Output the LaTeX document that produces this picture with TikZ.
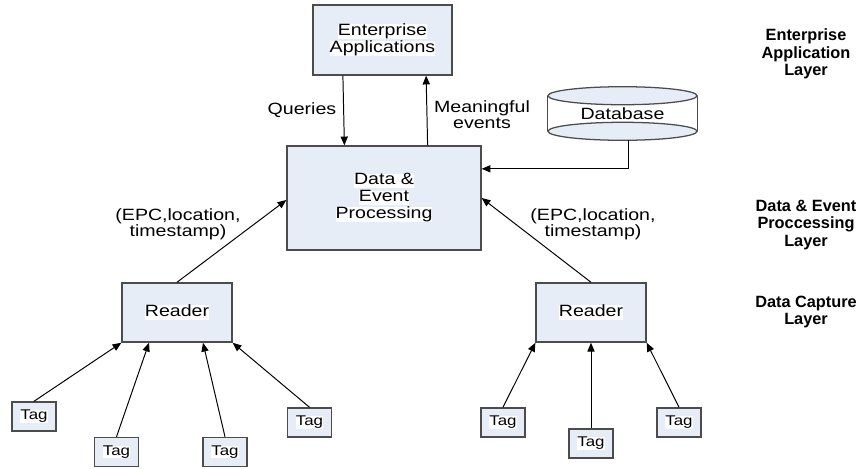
\documentclass[tikz,border=0pt]{standalone}
\usepackage{fontspec}
\setmainfont{Liberation Sans}
\newfontfamily\widefont{Liberation Sans}[FakeStretch=1.2]
\usetikzlibrary{arrows.meta}
\definecolor{boxblue}{RGB}{230,237,247}
% white strip behind the words in a box
\newcommand{\hl}[1]{{\setlength{\fboxsep}{0pt}\colorbox{white}{\vphantom{Ag}#1}}}
\tikzset{
    box/.style={draw=black!70, line width=0.9pt, fill=boxblue, align=center, inner sep=0pt,
      font=\widefont\fontsize{11.6}{12.1}\selectfont},
    tagbox/.style={box, minimum width=1.1cm, minimum height=0.73cm,
      font=\widefont\fontsize{10}{12}\selectfont},
    lbl/.style={align=center, inner sep=0pt, font=\widefont\fontsize{11.6}{11.4}\selectfont},
    layer/.style={align=center, inner sep=0pt, font=\bfseries\fontsize{11.6}{12.4}\selectfont},
    link/.style={-{Triangle[length=2.2mm, width=1.8mm]}, line width=0.7pt},
}

\begin{document}
\begin{tikzpicture}[x=0.025cm, y=-0.025cm]
    \useasboundingbox (0,0) rectangle (859,468);

    \node[box, minimum width=3.48cm, minimum height=1.75cm] (ea) at (382.5,40) {\hl{Enterprise}\\\hl{Applications}};
    \node[box, minimum width=4.85cm, minimum height=2.6cm] (dep) at (384,198) {\hl{Data \&}\\\hl{Event}\\\hl{Processing}};
    \node[lbl, minimum width=3.725cm, minimum height=1.325cm] (db) at (622.5,113.5) {Database};

    % database drum
    \draw[draw=black!70, line width=0.9pt, fill=boxblue] ([yshift=0.225cm]db.south) ellipse [x radius=1.8625cm, y radius=0.225cm];
    \draw[draw=black!70, line width=0.9pt] ([yshift=-0.225cm]db.north west) -- ([yshift=0.225cm]db.south west)
      ([yshift=-0.225cm]db.north east) -- ([yshift=0.225cm]db.south east);
    \draw[draw=black!70, line width=0.9pt, fill=boxblue] ([yshift=-0.225cm]db.north) ellipse [x radius=1.8625cm, y radius=0.225cm];

    \node[box, minimum width=2.75cm, minimum height=1.48cm] (rd1) at (177,312.5) {\hl{Reader}};
    \node[box, minimum width=2.75cm, minimum height=1.48cm] (rd2) at (591,312.5) {\hl{Reader}};

    \node[tagbox] (t1) at (34,416.5) {\hl{Tag}};
    \node[tagbox] (t2) at (116.5,452) {\hl{Tag}};
    \node[tagbox] (t3) at (225,452) {\hl{Tag}};
    \node[tagbox] (t4) at (309.5,422.5) {\hl{Tag}};
    \node[tagbox] (t5) at (503,422.5) {\hl{Tag}};
    \node[tagbox] (t6) at (591,443.5) {\hl{Tag}};
    \node[tagbox] (t7) at (679,422.5) {\hl{Tag}};

    \draw[link] ([xshift=-0.99cm]ea.south) -- ([xshift=-0.99cm]dep.north);
    \draw[link] ([xshift=1.09cm]dep.north) -- ([xshift=1.09cm]ea.south);
    \draw[link] ([xshift=0.16cm]db.south) |- ([yshift=0.73cm]dep.east);
    \draw[link] (rd1.north) -- ([yshift=-0.05cm]dep.west);
    \draw[link] (rd2.north) -- (dep.east);

    \draw[link] (t1.north) -- (rd1.south west);
    \draw[link] (t2.north) -- ([xshift=-0.7cm]rd1.south);
    \draw[link] (t3.north) -- ([xshift=0.65cm]rd1.south);
    \draw[link] (t4.north) -- (rd1.south east);
    \draw[link] (t5.north) -- (rd2.south west);
    \draw[link] (t6.north) -- (rd2.south);
    \draw[link] (t7.north) -- (rd2.south east);

    \node[lbl] (qlbl) at (302,110) {Queries};
    \node[lbl] (evlbl) at (482,115) {Meaningful\\events};
    \node[lbl] (epc1) at (178,224) {(EPC,location,\\timestamp)};
    \node[lbl] (epc2) at (593,224) {(EPC,location,\\timestamp)};

    \node[layer] (lay1) at (806,54) {Enterprise\\Application\\Layer};
    \node[layer] (lay2) at (806,225) {Data \& Event\\Proccessing\\Layer};
    \node[layer] (lay3) at (806,312) {Data Capture\\Layer};
\end{tikzpicture}
\end{document}
